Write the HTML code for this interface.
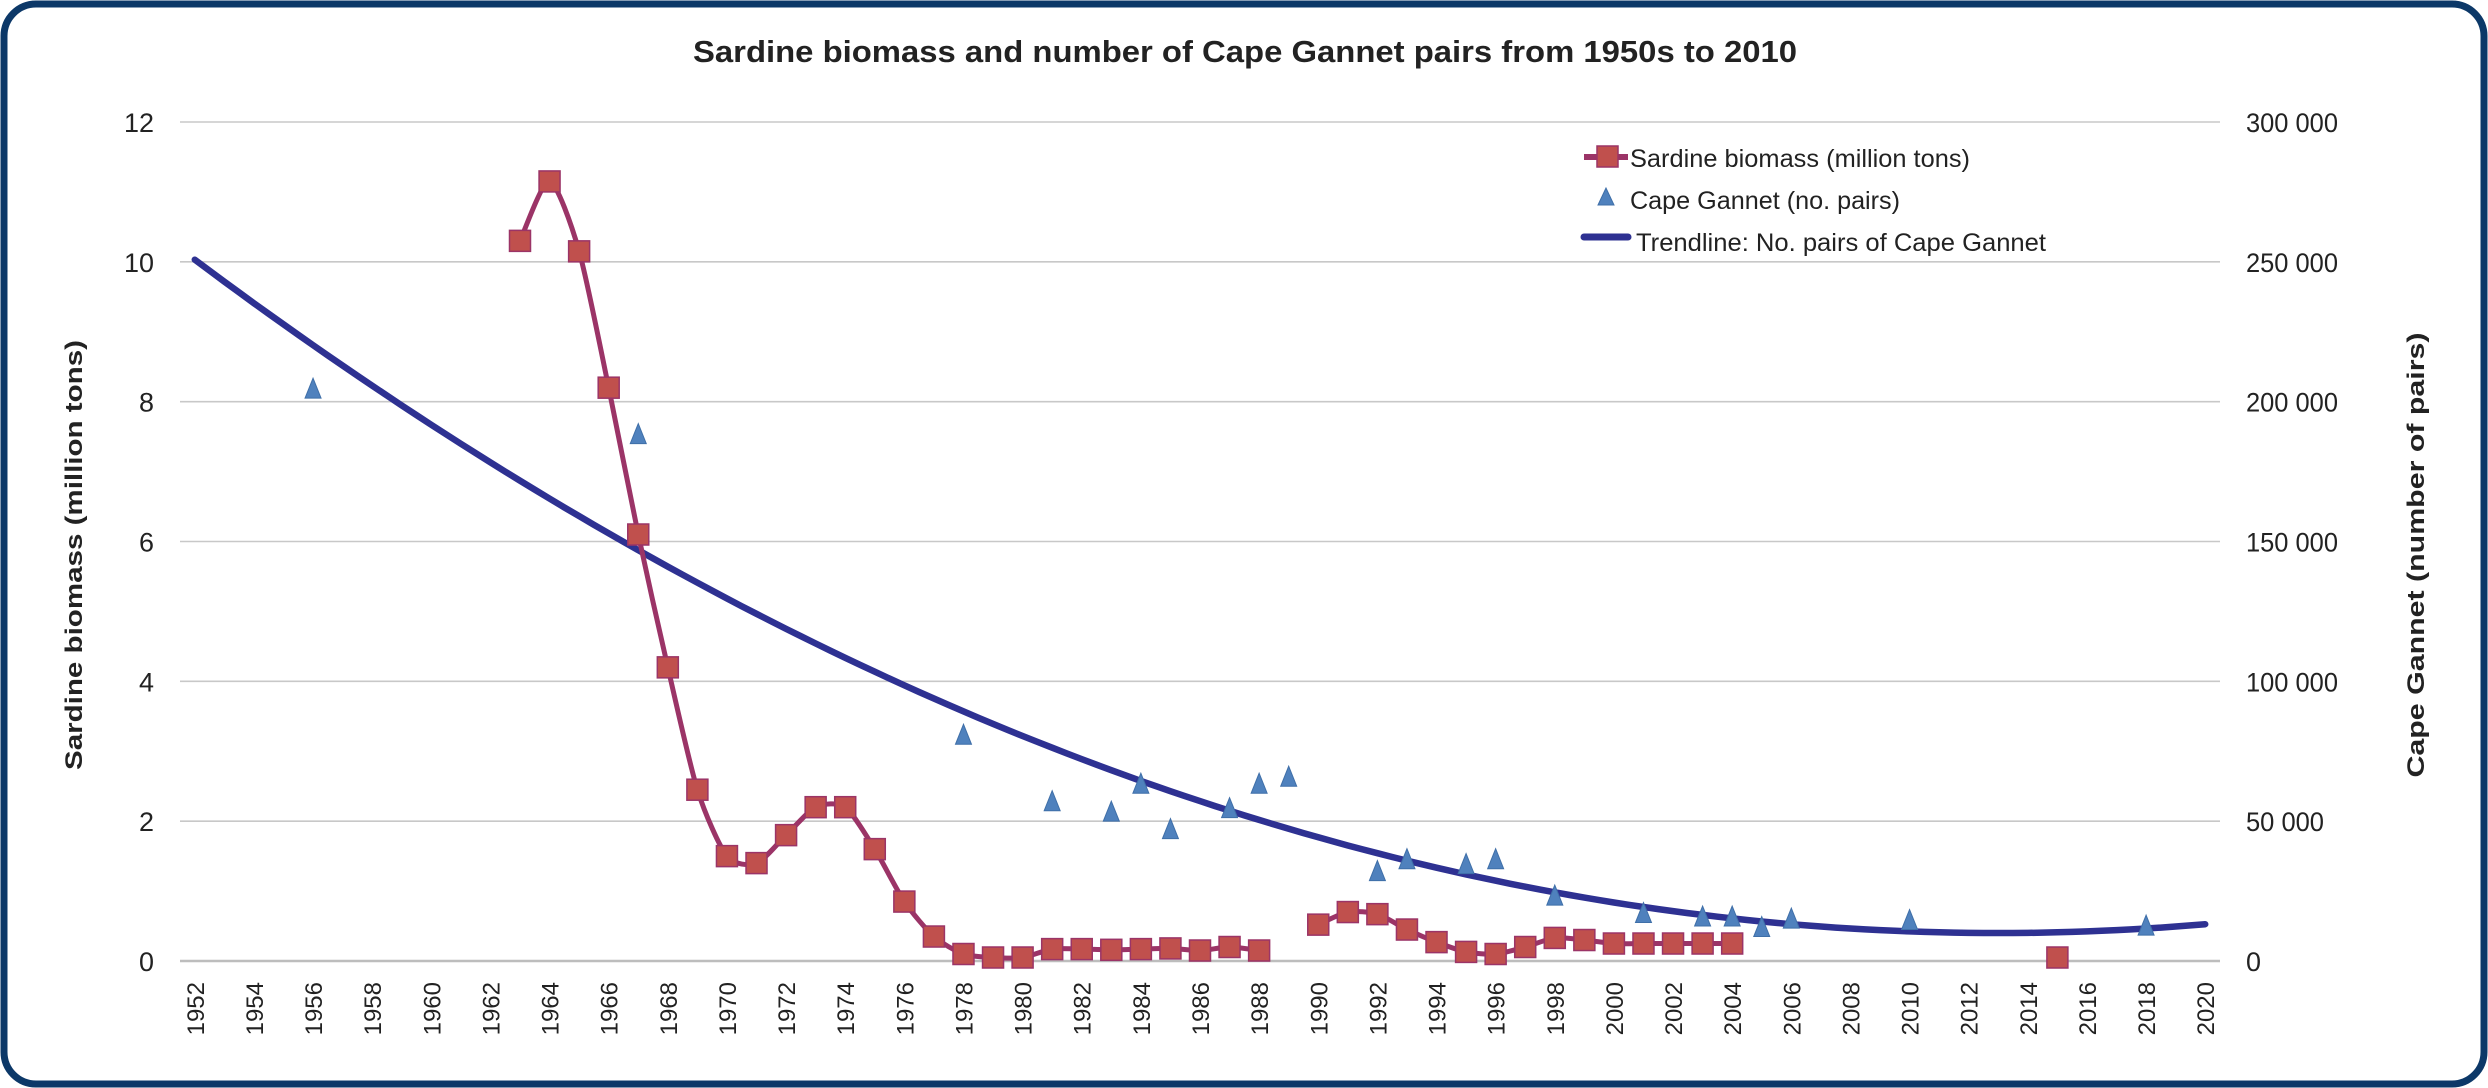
<!DOCTYPE html>
<html><head><meta charset="utf-8"><style>
html,body{margin:0;padding:0;background:#fff;}
svg{display:block;}
text{font-family:"Liberation Sans",sans-serif;fill:#222;}
</style></head><body>
<svg id="s" width="2488" height="1088" viewBox="0 0 2488 1088" xmlns="http://www.w3.org/2000/svg">
<rect x="4" y="4" width="2480" height="1080" rx="32" ry="32" fill="#fff" stroke="#0c3868" stroke-width="7"/>
<text x="1245" y="62" text-anchor="middle" font-size="31" font-weight="bold" textLength="1104" lengthAdjust="spacingAndGlyphs">Sardine biomass and number of Cape Gannet pairs from 1950s to 2010</text>
<g id="grid"></g>
<text transform="translate(82,555) rotate(-90)" text-anchor="middle" font-size="24" font-weight="bold" textLength="430" lengthAdjust="spacingAndGlyphs">Sardine biomass (million tons)</text>
<text transform="translate(2424,555) rotate(-90)" text-anchor="middle" font-size="24" font-weight="bold" textLength="445" lengthAdjust="spacingAndGlyphs">Cape Gannet (number of pairs)</text>
<g id="plot"></g>
<g id="legend">
<line x1="1584" y1="157" x2="1628" y2="157" stroke="#9b3467" stroke-width="6"/>
<rect x="1597" y="146" width="21" height="21" fill="#c0504d" stroke="#9b3467" stroke-width="1.5"/>
<text x="1630" y="167" font-size="25" textLength="340" lengthAdjust="spacingAndGlyphs">Sardine biomass (million tons)</text>
<polygon points="1606,188 1598,205 1614,205" fill="#4f81bd" stroke="#3f6fa8" stroke-width="1"/>
<text x="1630" y="209" font-size="25" textLength="270" lengthAdjust="spacingAndGlyphs">Cape Gannet (no. pairs)</text>
<line x1="1584" y1="237" x2="1628" y2="237" stroke="#2e3192" stroke-width="7" stroke-linecap="round"/>
<text x="1636" y="251" font-size="25" textLength="410" lengthAdjust="spacingAndGlyphs">Trendline: No. pairs of Cape Gannet</text>
</g>
</svg>
<script>
var NS="http://www.w3.org/2000/svg";
function el(p,t,a,txt){var e=document.createElementNS(NS,t);for(var k in a)e.setAttribute(k,a[k]);if(txt!==undefined)e.textContent=txt;p.appendChild(e);return e;}
var L=180,R=2220,T=122,B=961,cw=(R-L)/69;
function X(y){return L+(y-1952+0.5)*cw;}
function Y(v){return B-v*(B-T)/12;}
var g=document.getElementById('grid');
var rl=["0","50 000","100 000","150 000","200 000","250 000","300 000"];
for(var i=0;i<=6;i++){var y=Y(i*2);
 el(g,'line',{x1:L,y1:y,x2:R,y2:y,stroke:i==0?'#bdbdbd':'#c8c8c8','stroke-width':i==0?2.5:1.6});
 el(g,'text',{x:154,y:y+10,'text-anchor':'end','font-size':27,textLength:(i*2>=10?30:15),lengthAdjust:'spacingAndGlyphs'},String(i*2));
 var tl=rl[i].length==1?15:(rl[i].length==6?78:92);
 el(g,'text',{x:2246,y:y+10,'font-size':27,textLength:tl,lengthAdjust:'spacingAndGlyphs'},rl[i]);
}
for(var yr=1952;yr<=2020;yr+=2){var x=X(yr);
 el(g,'text',{transform:'translate('+(x+9)+',982) rotate(-90)','text-anchor':'end','font-family':'DejaVu Sans, sans-serif','font-size':24,fill:'#222'},String(yr));
}
var p=document.getElementById('plot');
var d="";for(var t=0;t<=68;t+=0.5){var v=0.002588*Math.pow(t-61,2)+0.4;d+=(t==0?"M":"L")+X(1952+t).toFixed(1)+","+Y(v).toFixed(1);}
el(p,'path',{d:d,fill:'none',stroke:'#2e3192','stroke-width':6.5,'stroke-linecap':'round'});
var s1=[[1963,10.3],[1964,11.15],[1965,10.15],[1966,8.2],[1967,6.1],[1968,4.2],[1969,2.45],[1970,1.5],[1971,1.4],[1972,1.8],[1973,2.2],[1974,2.2],[1975,1.6],[1976,0.85],[1977,0.35],[1978,0.1],[1979,0.05],[1980,0.05],[1981,0.17],[1982,0.17],[1983,0.16],[1984,0.17],[1985,0.18],[1986,0.15],[1987,0.2],[1988,0.15]];
var s2=[[1990,0.52],[1991,0.7],[1992,0.67],[1993,0.45],[1994,0.27],[1995,0.13],[1996,0.1],[1997,0.2],[1998,0.33],[1999,0.3],[2000,0.25],[2001,0.25],[2002,0.25],[2003,0.25],[2004,0.25]];
function smooth(a){var P=a.map(function(q){return [X(q[0]),Y(q[1])];});var d="M"+P[0][0]+","+P[0][1];
 for(var i=0;i<P.length-1;i++){var p0=P[Math.max(0,i-1)],p1=P[i],p2=P[i+1],p3=P[Math.min(P.length-1,i+2)];var k=1/8;
  d+="C"+(p1[0]+(p2[0]-p0[0])*k)+","+(p1[1]+(p2[1]-p0[1])*k)+" "+(p2[0]-(p3[0]-p1[0])*k)+","+(p2[1]-(p3[1]-p1[1])*k)+" "+p2[0]+","+p2[1];}
 return d;}
[s1,s2].forEach(function(a){el(p,'path',{d:smooth(a),fill:'none',stroke:'#9b3467','stroke-width':5,'stroke-linejoin':'round'});});
var g2=[[1956,8.15],[1967,7.5],[1978,3.2],[1981,2.25],[1983,2.1],[1984,2.5],[1985,1.85],[1987,2.15],[1988,2.5],[1989,2.6],[1992,1.25],[1993,1.42],[1995,1.35],[1996,1.42],[1998,0.9],[2001,0.65],[2003,0.6],[2004,0.6],[2005,0.45],[2006,0.57],[2010,0.55],[2018,0.47]];
g2.forEach(function(q){var x=X(q[0]),y=Y(q[1]);el(p,'polygon',{points:x+","+(y-13)+" "+(x-8)+","+(y+7)+" "+(x+8)+","+(y+7),fill:'#4f81bd',stroke:'#3f6fa8','stroke-width':1});});
s1.concat(s2).concat([[2015,0.05]]).forEach(function(q){var x=X(q[0]),y=Y(q[1]);el(p,'rect',{x:x-10.5,y:y-10.5,width:21,height:21,fill:'#c0504d',stroke:'#9b3467','stroke-width':1.5});});
</script>
</body></html>
